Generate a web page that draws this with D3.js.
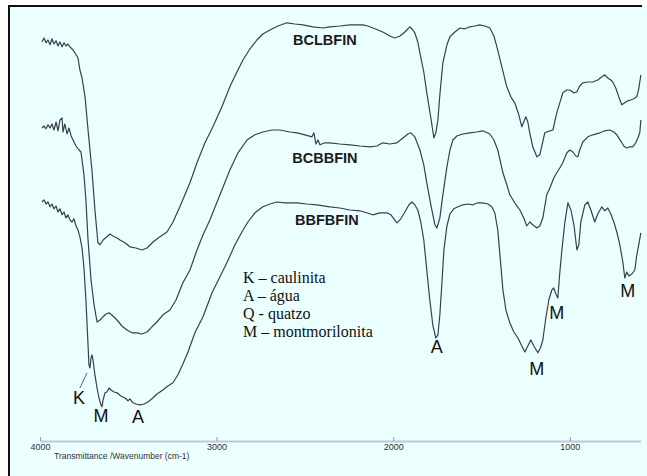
<!DOCTYPE html>
<html>
<head>
<meta charset="utf-8">
<script src="https://cdn.jsdelivr.net/npm/d3@7/dist/d3.min.js"></script>
<style>
  html, body { margin: 0; padding: 0; background: #ffffff; }
  svg { display: block; }
</style>
</head>
<body>
<div id="chart"></div>
<script>
// FTIR spectra of three clay samples: [wavenumber (cm-1), transmittance]
const wavenumberTicks = [4000, 3000, 2000, 1000];

const bclbfin = [
  [3989,97.0],[3977,98.0],[3966,96.8],[3955,97.5],[3943,96.3],[3932,97.8],[3921,96.5],[3909,97.3],
  [3898,96.0],[3887,97.0],[3875,95.8],[3864,96.8],[3853,96.0],[3842,96.5],[3830,95.8],[3813,95.0],
  [3802,94.3],[3785,93.0],[3774,90.0],[3762,88.0],[3745,83.3],[3728,75.0],[3706,65.0],[3689,55.0],
  [3672,46.8],[3660,46.3],[3643,47.5],[3621,48.3],[3604,49.0],[3587,48.5],[3564,48.0],[3547,47.5],
  [3519,46.8],[3491,45.8],[3457,45.5],[3423,45.0],[3394,45.5],[3360,47.0],[3321,48.3],[3281,49.5],
  [3247,52.0],[3208,55.8],[3151,61.8],[3111,66.8],[3066,71.8],[3021,75.8],[2970,80.8],[2925,85.8],
  [2885,89.5],[2851,92.5],[2811,95.3],[2772,97.5],[2738,99.0],[2698,100.0],[2653,101.0],[2602,101.8],
  [2557,101.5],[2511,101.3],[2455,100.8],[2398,100.5],[2359,100.8],[2302,101.0],[2245,101.3],[2172,101.3],
  [2144,101.0],[2115,100.5],[2087,100.0],[2059,99.5],[2019,98.5],[1991,98.0],[1962,98.5],[1934,99.5],
  [1906,100.8],[1889,100.0],[1878,99.3],[1861,97.0],[1849,94.3],[1827,89.5],[1810,84.3],[1787,78.0],
  [1770,73.0],[1759,74.3],[1747,77.5],[1736,83.8],[1719,91.8],[1696,96.3],[1679,98.3],[1651,99.5],
  [1623,100.5],[1595,100.3],[1566,100.8],[1538,101.0],[1510,101.3],[1481,101.0],[1453,100.5],[1430,98.5],
  [1413,95.8],[1385,90.8],[1357,85.8],[1334,83.3],[1312,81.8],[1289,78.8],[1272,75.8],[1261,77.0],
  [1249,78.3],[1238,77.0],[1227,74.3],[1210,70.8],[1187,68.3],[1170,68.8],[1142,74.3],[1113,74.8],
  [1096,75.0],[1074,79.3],[1057,81.8],[1040,84.3],[1017,85.0],[1000,85.0],[978,84.3],[961,84.5],
  [944,86.0],[927,86.8],[898,87.0],[870,87.0],[842,87.5],[819,88.3],[802,88.8],[785,88.0],
  [768,87.5],[757,87.0],[740,85.5],[723,83.3],[706,81.3],[689,81.8],[672,82.3],[655,82.5],
  [638,82.8],[621,83.3],[609,85.5],[598,88.8]
];

const bcbbfin = [
  [3989,75.5],[3977,76.0],[3966,75.3],[3955,76.3],[3943,75.5],[3932,76.5],[3921,75.0],[3909,77.0],
  [3898,74.8],[3887,77.5],[3875,78.0],[3870,74.5],[3859,76.5],[3847,74.0],[3836,75.5],[3824,73.5],
  [3813,72.5],[3796,71.0],[3779,70.0],[3768,69.5],[3762,67.5],[3751,63.8],[3740,57.5],[3728,47.5],
  [3711,37.5],[3694,31.3],[3677,27.0],[3660,27.5],[3643,28.3],[3626,29.0],[3609,29.3],[3587,28.5],
  [3564,27.5],[3536,26.0],[3508,25.0],[3479,24.3],[3451,24.3],[3423,24.0],[3394,24.5],[3366,25.8],
  [3338,27.0],[3304,28.8],[3264,30.0],[3230,32.5],[3191,36.8],[3151,40.0],[3111,45.0],[3077,48.8],
  [3038,52.5],[2981,58.8],[2925,65.0],[2879,69.3],[2828,72.5],[2783,73.8],[2738,74.5],[2687,75.0],
  [2642,75.0],[2585,74.5],[2545,74.3],[2500,73.8],[2460,73.3],[2449,74.3],[2438,71.5],[2426,72.5],
  [2415,71.3],[2387,71.8],[2359,71.8],[2302,71.5],[2245,71.3],[2189,71.0],[2132,70.8],[2093,71.0],
  [2059,71.8],[2019,71.5],[1979,71.8],[1945,73.0],[1917,74.0],[1900,74.3],[1878,73.3],[1849,70.0],
  [1827,66.3],[1810,61.8],[1787,56.3],[1764,51.3],[1753,50.5],[1736,53.0],[1719,58.8],[1696,65.8],
  [1679,70.0],[1662,72.5],[1640,73.5],[1606,74.0],[1566,74.3],[1527,74.5],[1493,74.8],[1453,74.0],
  [1430,72.5],[1408,70.0],[1379,64.3],[1357,61.3],[1340,58.8],[1312,56.8],[1283,55.0],[1261,53.0],
  [1244,51.0],[1227,52.0],[1210,51.3],[1187,50.5],[1170,51.0],[1153,53.0],[1131,58.8],[1113,60.5],
  [1091,63.0],[1074,64.3],[1057,65.5],[1040,66.8],[1017,69.3],[1000,70.0],[983,69.5],[966,68.5],
  [955,68.3],[944,70.0],[927,72.0],[898,73.3],[870,73.8],[830,74.3],[802,74.8],[774,75.0],
  [751,74.5],[734,73.8],[712,72.3],[695,71.0],[678,70.5],[661,70.8],[644,70.8],[627,71.8],
  [615,73.0],[604,74.3],[598,77.5]
];

const bbfbfin = [
  [3989,57.0],[3977,57.5],[3966,56.5],[3955,57.0],[3943,55.8],[3932,56.5],[3921,55.3],[3909,56.0],
  [3898,54.5],[3887,55.3],[3875,53.8],[3864,54.5],[3853,53.0],[3842,53.8],[3830,52.5],[3819,52.0],
  [3807,52.8],[3796,51.0],[3785,50.0],[3774,48.3],[3762,45.5],[3751,40.5],[3740,32.5],[3728,21.3],
  [3723,16.3],[3717,15.5],[3711,18.0],[3706,18.8],[3700,17.5],[3689,13.8],[3677,10.5],[3666,8.0],
  [3655,6.3],[3649,5.8],[3643,7.5],[3632,9.3],[3621,9.5],[3609,10.5],[3598,10.0],[3581,9.5],
  [3564,9.3],[3542,8.5],[3519,8.0],[3502,7.3],[3491,7.8],[3474,6.8],[3457,6.5],[3434,6.3],
  [3411,6.5],[3389,7.0],[3366,7.8],[3338,9.0],[3304,10.0],[3276,11.0],[3247,11.8],[3219,13.8],
  [3191,16.5],[3162,19.5],[3123,24.3],[3077,28.3],[3026,34.3],[2981,38.3],[2942,41.8],[2896,46.3],
  [2857,49.5],[2823,52.0],[2783,54.3],[2738,55.8],[2698,56.5],[2659,57.0],[2613,56.8],[2545,56.8],
  [2489,56.5],[2432,56.3],[2359,55.8],[2302,55.5],[2245,55.0],[2189,54.8],[2115,53.8],[2076,54.3],
  [2036,54.3],[2013,53.8],[1996,52.8],[1979,51.8],[1957,52.8],[1934,54.5],[1911,56.3],[1894,57.0],
  [1878,56.3],[1861,55.0],[1844,52.0],[1827,47.5],[1810,40.0],[1793,32.5],[1776,26.3],[1759,23.0],
  [1747,23.8],[1736,28.8],[1725,36.3],[1713,45.0],[1696,51.0],[1679,54.0],[1657,55.3],[1634,55.8],
  [1606,56.3],[1578,56.5],[1549,56.3],[1521,56.8],[1493,56.8],[1464,56.5],[1442,55.8],[1425,54.3],
  [1408,50.0],[1396,43.8],[1379,35.0],[1362,30.0],[1340,26.8],[1317,24.5],[1294,23.0],[1272,21.0],
  [1255,19.5],[1238,21.0],[1221,22.5],[1204,21.0],[1181,19.3],[1164,20.8],[1153,22.5],[1136,28.0],
  [1119,32.5],[1102,35.0],[1091,35.5],[1079,34.0],[1068,33.0],[1057,39.3],[1045,45.0],[1028,52.0],
  [1011,56.8],[994,55.0],[977,51.3],[960,45.0],[949,46.3],[938,52.0],[915,56.3],[898,57.0],
  [881,55.0],[859,52.0],[842,54.0],[819,55.8],[802,54.8],[785,55.5],[768,54.0],[751,52.0],
  [734,49.5],[717,46.3],[700,42.0],[689,38.0],[678,39.5],[666,38.5],[649,39.0],[632,40.0],
  [621,43.8],[610,46.3],[598,49.3]
];

const sampleNames = ["BCLBFIN", "BCBBFIN", "BBFBFIN"];
const sampleLabelAt = [[2387, 96.3], [2387, 66.8], [2376, 51.3]];

// band assignments marked on the lowest spectrum
const bandLetters = ["K", "M", "A", "A", "M", "M", "M"];
const bandAt = [[3779, 6.5], [3655, 2.0], [3445, 1.8], [1753, 19.3], [1187, 13.8], [1074, 27.8], [672, 33.3]];
const kaoliniteLeader = [[3774, 10.5], [3734, 14.3]];

const legendLines = ["K \u2013 caulinita", "A \u2013 \u00e1gua", "Q - quatzo", "M \u2013 montmorilonita"];
const axisTitle = "Transmittance /Wavenumber (cm-1)";

const W = 647, H = 476;
const svg = d3.select("#chart").append("svg").attr("width", W).attr("height", H);

svg.append("rect").attr("width", W).attr("height", H).attr("fill", "#ffffff");
svg.append("rect").attr("x", 9).attr("y", 6).attr("width", W - 9).attr("height", H - 6).attr("fill", "#ebffff");
svg.append("line").attr("x1", 8).attr("x2", 642).attr("y1", 6).attr("y2", 6)
  .attr("stroke", "#111").attr("stroke-width", 2);
svg.append("line").attr("x1", 9).attr("x2", 9).attr("y1", 5).attr("y2", H)
  .attr("stroke", "#111").attr("stroke-width", 2);

const x = d3.scaleLinear().domain([4000, 600]).range([40, 640.5]);
const y = d3.scaleLinear().domain([0, 100]).range([430, 30]);

// wavenumber axis
const axisY = 441;
const axis = svg.append("g").attr("transform", `translate(0,${axisY})`)
  .call(d3.axisBottom(x).tickValues(wavenumberTicks).tickFormat(d3.format("d"))
    .tickSizeInner(-4).tickSizeOuter(0).tickPadding(3));
axis.select(".domain").attr("stroke", "#b9c8da").attr("stroke-width", 2);
axis.selectAll(".tick line").attr("stroke", "#8a9aac").attr("stroke-width", 1);
axis.selectAll(".tick text").attr("fill", "#333").attr("font-family", "Liberation Sans, Arial, sans-serif")
  .attr("font-size", 9);

svg.append("text").attr("x", 54).attr("y", 459)
  .attr("font-family", "Liberation Sans, Arial, sans-serif").attr("font-size", 8.5).attr("fill", "#333")
  .text(axisTitle);

// spectra
const line = d3.line().x(d => x(d[0])).y(d => y(d[1]));
[bclbfin, bcbbfin, bbfbfin].forEach(s => {
  svg.append("path").datum(s).attr("d", line)
    .attr("fill", "none").attr("stroke", "#3a3f4c").attr("stroke-width", 1.2)
    .attr("stroke-linejoin", "round");
});

sampleNames.forEach((n, i) => {
  svg.append("text").attr("x", x(sampleLabelAt[i][0])).attr("y", y(sampleLabelAt[i][1]))
    .attr("text-anchor", "middle").attr("font-family", "Liberation Sans, Arial, sans-serif")
    .attr("font-weight", "bold").attr("font-size", 14.5).attr("fill", "#1a1a1a").text(n);
});

bandLetters.forEach((t, i) => {
  svg.append("text").attr("x", x(bandAt[i][0])).attr("y", y(bandAt[i][1]))
    .attr("text-anchor", "middle").attr("font-family", "Liberation Sans, Arial, sans-serif")
    .attr("font-size", 18).attr("fill", "#111").text(t);
});

svg.append("line")
  .attr("x1", x(kaoliniteLeader[0][0])).attr("y1", y(kaoliniteLeader[0][1]))
  .attr("x2", x(kaoliniteLeader[1][0])).attr("y2", y(kaoliniteLeader[1][1]))
  .attr("stroke", "#6a5a9a").attr("stroke-width", 1);

const legend = svg.append("g").attr("transform", "translate(243,283)");
legend.selectAll("text").data(legendLines).join("text")
  .attr("x", 0).attr("y", (d, i) => i * 18)
  .attr("font-family", "Liberation Serif, Times New Roman, serif").attr("font-size", 16)
  .attr("fill", "#111").text(d => d);
</script>
</body>
</html>
